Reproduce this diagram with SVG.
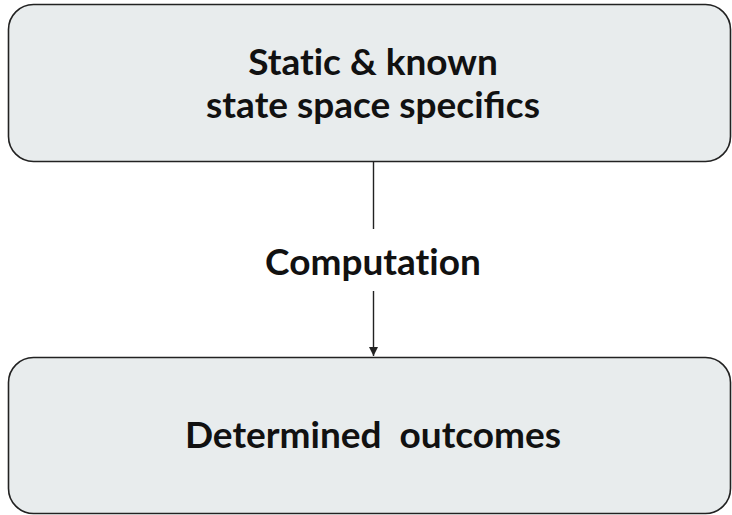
<svg xmlns="http://www.w3.org/2000/svg" width="732" height="515" viewBox="0 0 732 515">
<defs>
<style>
.box{fill:#e8eced;stroke:#222;stroke-width:1.6}
.t{font-family:Lato,"Noto Sans",sans-serif;font-weight:bold;font-size:37px;fill:#111;text-anchor:middle;font-variant-ligatures:none}
.lig{font-variant-ligatures:normal}
.c{stroke:#222;stroke-width:1.4;fill:none}
</style>
<marker id="ah" markerWidth="10" markerHeight="12" refX="9" refY="6" orient="auto" markerUnits="userSpaceOnUse" viewBox="0 0 10 12">
<path d="M0,1.5 L9,6 L0,10.5 Z" fill="#222"/>
</marker>
</defs>
<rect width="732" height="515" fill="#fff"/>
<g id="node-static">
<rect class="box" x="8.5" y="4.5" width="722" height="157" rx="25"/>
<text class="t" x="373" y="74.5">Static &amp; known</text>
<text class="t" x="373" y="118">state space speci<tspan class="lig">fi</tspan>cs</text>
</g>
<g id="node-outcomes">
<rect class="box" x="8.5" y="357.5" width="722" height="156" rx="25"/>
<text class="t" x="373" y="448" xml:space="preserve">Determined  outcomes</text>
</g>
<g id="connectors">
<line class="c" x1="373.5" y1="162" x2="373.5" y2="229"/>
<line class="c" x1="373.5" y1="291" x2="373.5" y2="356" marker-end="url(#ah)"/>
<text class="t" x="373" y="275">Computation</text>
</g>
</svg>
